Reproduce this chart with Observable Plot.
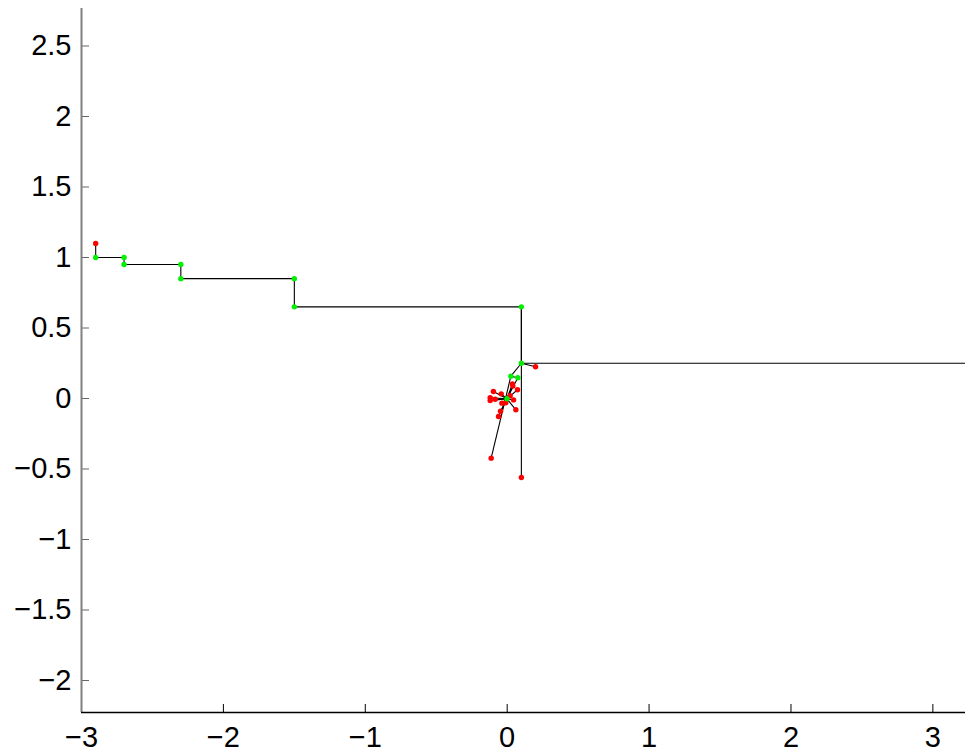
<!DOCTYPE html>
<html><head><meta charset="utf-8">
<script src="https://cdn.jsdelivr.net/npm/d3@7"></script>
<script src="https://cdn.jsdelivr.net/npm/@observablehq/plot@0.6"></script>
<style>body{margin:0;background:#fff}</style>
</head><body><div id="chart"></div>
<script>
// accepted (green) iterates, connected in order
const acceptedX = [-2.9, -2.7, -2.7, -2.3, -2.3, -1.5, -1.5, 0.1, 0.1, 0.026, 0.075, -0.002];
const acceptedY = [1.0, 1.0, 0.95, 0.95, 0.85, 0.85, 0.65, 0.65, 0.25, 0.158, 0.147, -0.002];
// rejected (red) trial points, each linked to the accepted point it was tried from
const trialParent = [0, 7, 8, 8, 9, 11, 11, 11, 11, 11, 11, 11, 11, 11, 11, 11, 11, 11, 11, 11];
const trialX = [-2.9, 0.1, 0.2, 4.5, -0.113, 0.037, 0.040, 0.073, -0.097, -0.042, -0.120, -0.120, -0.085, 0.021, 0.045, -0.037, -0.010, 0.061, -0.047, -0.061];
const trialY = [1.1, -0.56, 0.225, 0.25, -0.423, 0.104, 0.088, 0.062, 0.050, 0.033, 0.005, -0.015, -0.005, 0.020, -0.010, -0.033, -0.030, -0.080, -0.090, -0.128];
const xTicks = [-3, -2, -1, 0, 1, 2, 3];
const yTicks = [-2, -1.5, -1, -0.5, 0, 0.5, 1, 1.5, 2, 2.5];
const xDomain = [-3, 3.23];
const yDomain = [-2.227, 2.766];

const accepted = acceptedX.map((x, i) => ({x, y: acceptedY[i]}));
const trials = trialX.map((x, i) => ({
  x, y: trialY[i],
  px: acceptedX[trialParent[i]], py: acceptedY[trialParent[i]]
}));
const fmt = d => String(d).replace("-", "\u2212");

const chart = Plot.plot({
  width: 965,
  height: 752,
  marginLeft: 81,
  marginRight: 0,
  marginTop: 8,
  marginBottom: 40,
  style: {fontFamily: "'Liberation Sans', Arial, Helvetica, sans-serif", fontSize: "29px", color: "#000", background: "#fff"},
  x: {domain: xDomain, ticks: xTicks},
  y: {domain: yDomain, ticks: yTicks},
  marks: [
    Plot.axisY({ticks: yTicks, tickFormat: fmt, tickSize: -8, tickPadding: 18, stroke: "#666", fontSize: 29}),
    Plot.axisX({ticks: xTicks, tickFormat: fmt, tickSize: -8, tickPadding: 22, stroke: "#000", fontSize: 29}),
    Plot.ruleX([xDomain[0]], {stroke: "#808080", strokeWidth: 2}),
    Plot.ruleY([yDomain[0]], {stroke: "#000", strokeWidth: 1.5}),
    Plot.link(trials, {x1: "px", y1: "py", x2: "x", y2: "y", stroke: "#000", strokeWidth: 1.1, clip: true}),
    Plot.line(accepted, {x: "x", y: "y", stroke: "#000", strokeWidth: 1.1, clip: true}),
    Plot.dot(trials, {x: "x", y: "y", r: 2.7, fill: "#ff0000", stroke: "none", clip: true}),
    Plot.dot(accepted, {x: "x", y: "y", r: 2.7, fill: "#00f000", stroke: "none", clip: true})
  ]
});
document.getElementById("chart").appendChild(chart);
</script>
</body></html>
